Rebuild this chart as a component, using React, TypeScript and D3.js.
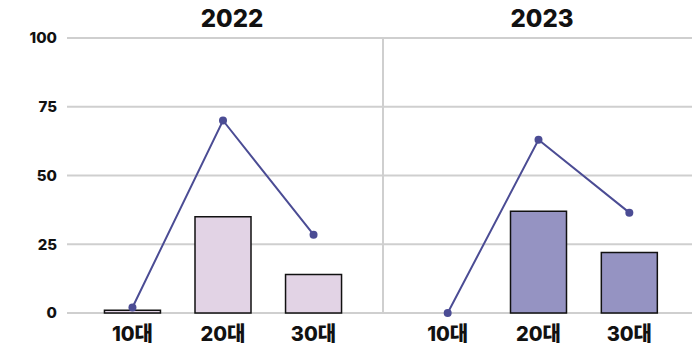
import React from "react";
import * as d3 from "d3";

const years = ["2022", "2023"];
const categories = ["10대", "20대", "30대"];
const barValues2022 = [1, 35, 14];
const barValues2023 = [0, 37, 22];
const lineValues2022 = [2, 70, 28.5];
const lineValues2023 = [0, 63, 36.5];
const yTicks = [0, 25, 50, 75, 100];

const barColors = ["#e2d3e5", "#9593c2"];
const lineColor = "#4b4c94";
const gridColor = "#cfcfcf";
const font = "Inter, 'Noto Sans', 'Noto Sans CJK KR', sans-serif";

export default function App() {
  const W = 692, H = 353;
  const plotLeft = 67, plotRight = 692;
  const y = d3.scaleLinear().domain([0, 100]).range([313, 38]);
  const panels = [
    { year: years[0], bars: barValues2022, line: lineValues2022, x0: 65, x1: 381, color: barColors[0], titleX: 232 },
    { year: years[1], bars: barValues2023, line: lineValues2023, x0: 380, x1: 697, color: barColors[1], titleX: 542 },
  ];
  const barW = 56;
  return (
    <svg width={W} height={H} style={{ position: "absolute", left: 0, top: 0 }}>
      <rect width={W} height={H} fill="#fff" />
      {yTicks.map((t) => (
        <g key={t}>
          <line x1={plotLeft} x2={plotRight} y1={y(t)} y2={y(t)} stroke={gridColor} strokeWidth={2} />
          <text x={57} y={y(t)} dy="0.35em" textAnchor="end" fontFamily={font} fontWeight={800} fontSize={15} fill="#111">
            {t}
          </text>
        </g>
      ))}
      <line x1={383} x2={383} y1={y(100)} y2={y(0)} stroke={gridColor} strokeWidth={2} />
      {panels.map((p) => {
        const x = d3.scalePoint<string>().domain(categories).range([p.x0, p.x1]).padding(0.745);
        const lineGen = d3
          .line<number>()
          .x((_, i) => x(categories[i]) as number)
          .y((d) => y(d));
        return (
          <g key={p.year}>
            <text x={p.titleX} y={27} textAnchor="middle" fontFamily={font} fontWeight={800} fontSize={24} fill="#111">
              {p.year}
            </text>
            {p.bars.map((v, i) =>
              v > 0 ? (
                <rect
                  key={i}
                  x={(x(categories[i]) as number) - barW / 2}
                  y={y(v)}
                  width={barW}
                  height={y(0) - y(v)}
                  fill={p.color}
                  stroke="#111"
                  strokeWidth={1.5}
                />
              ) : null
            )}
            <path d={lineGen(p.line) || ""} fill="none" stroke={lineColor} strokeWidth={2} />
            {p.line.map((v, i) => (
              <circle key={i} cx={x(categories[i]) as number} cy={y(v)} r={4} fill={lineColor} />
            ))}
            {categories.map((c) => (
              <text key={c} x={x(c) as number} y={341} textAnchor="middle" fontFamily={font} fontWeight={800} fontSize={20} fill="#111">
                {c}
              </text>
            ))}
          </g>
        );
      })}
    </svg>
  );
}
